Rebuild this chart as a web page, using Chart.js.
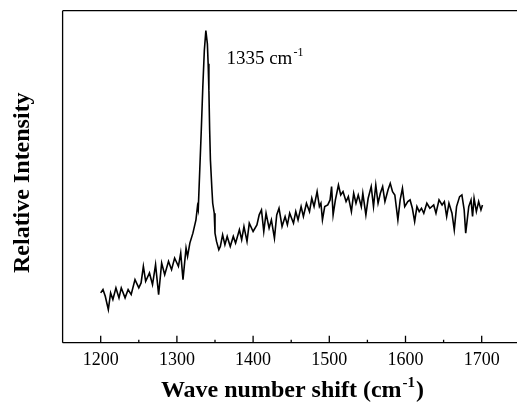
<!DOCTYPE html>
<html>
<head>
<meta charset="utf-8">
<script src="https://cdn.jsdelivr.net/npm/chart.js@4"></script>
<style>
  html, body { margin: 0; padding: 0; background: #fff; overflow: hidden; }
  #wrap { width: 522px; height: 408px; }
</style>
</head>
<body>
<div id="wrap"><canvas id="raman"></canvas></div>
<script>
// Raman spectrum (relative units, 0-100 = plot height)
const waveNumbers = [
  1200, 1203, 1206, 1210, 1213, 1216, 1220, 1224, 1227, 1232, 1236, 1240, 1245, 1250, 1253, 1256,
  1259, 1264, 1268, 1272, 1276, 1280, 1284, 1289, 1293, 1297, 1302, 1305, 1308, 1312, 1314, 1317,
  1321, 1325, 1327, 1328, 1330, 1332, 1334, 1336, 1338, 1340, 1341, 1342, 1343, 1344, 1346, 1347,
  1349, 1350, 1352, 1355, 1357, 1360, 1363, 1366, 1370, 1374, 1377, 1382, 1385, 1388, 1392, 1395,
  1400, 1405, 1408, 1411, 1414, 1417, 1421, 1424, 1428, 1431, 1434, 1438, 1442, 1445, 1448, 1453,
  1456, 1459, 1463, 1466, 1470, 1474, 1477, 1480, 1484, 1487, 1489, 1491, 1494, 1498, 1501, 1503,
  1505, 1508, 1512, 1515, 1518, 1522, 1525, 1529, 1532, 1535, 1538, 1542, 1544, 1548, 1551, 1555,
  1558, 1561, 1564, 1567, 1570, 1573, 1577, 1580, 1583, 1586, 1590, 1593, 1596, 1599, 1603, 1606,
  1609, 1612, 1615, 1618, 1621, 1624, 1628, 1632, 1637, 1640, 1644, 1648, 1651, 1654, 1657, 1661,
  1664, 1667, 1671, 1674, 1677, 1679, 1683, 1686, 1688, 1690, 1693, 1696, 1699, 1701
];
const intensity = [
  15, 16, 14, 10, 15, 13, 16.5, 13.5, 16.5, 13.5, 16, 14.5, 19, 16.5, 18, 23,
  18.5, 21, 17.5, 23.5, 14.5, 24, 20.5, 24.5, 22, 25.5, 23, 27, 19, 28.5, 26, 30,
  33, 37, 41, 40, 52, 64, 77, 88, 94, 90, 84, 76, 64, 55, 46, 42,
  39, 33, 30.5, 28, 29, 32.5, 29.5, 32, 29, 32, 30, 34, 31, 35, 30.5, 36,
  33.5, 35.5, 38.5, 40, 33.5, 39, 34.5, 37, 31.5, 38.5, 40.5, 35, 38, 35.5, 39, 36,
  39.5, 37, 41, 38, 42, 39.5, 43.5, 41, 45.5, 41, 42, 37, 41, 41.5, 43, 47,
  38.5, 43, 47.5, 44.5, 45.5, 42.5, 44, 39.5, 45, 42, 44.5, 41, 45, 38.5, 43.5, 47,
  41, 47.5, 42, 45, 47, 42.5, 46, 48, 45.5, 44.5, 37, 43, 46.5, 41, 42.5, 43,
  40.5, 36.5, 41, 39.5, 40.5, 39, 42, 40.5, 41.5, 39, 43, 41.5, 42.5, 38, 42, 39,
  34, 41, 44, 44.5, 40, 33, 41, 43, 38, 43.5, 39.5, 42.5, 40, 41.5
];
const xTickLabels = [1200, 1300, 1400, 1500, 1600, 1700];
const peakLabel = '1335 cm';

const points = waveNumbers.map((w, i) => ({ x: w, y: intensity[i] }));

// frame, inward ticks and the titles with superscripts
const framePlugin = {
  id: 'frame',
  afterDraw(chart) {
    const { ctx, chartArea: a, scales: { x, y } } = chart;
    ctx.save();
    ctx.strokeStyle = '#000';
    ctx.lineWidth = 1.3;
    ctx.beginPath();
    ctx.moveTo(a.left, a.top); ctx.lineTo(a.right, a.top);
    ctx.moveTo(a.left, a.top); ctx.lineTo(a.left, a.bottom);
    ctx.moveTo(a.left, a.bottom); ctx.lineTo(a.right, a.bottom);
    ctx.moveTo(a.right, a.top); ctx.lineTo(a.right, a.bottom);
    for (let v = 1150; v <= 1750; v += 50) {
      const px = x.getPixelForValue(v);
      const len = v % 100 === 0 ? 7 : 3;
      ctx.moveTo(px, a.bottom); ctx.lineTo(px, a.bottom - len);
    }
    ctx.stroke();

    ctx.fillStyle = '#000';
    // peak annotation
    ctx.font = '19px "Liberation Serif"';
    ctx.textBaseline = 'alphabetic';
    const ax = x.getPixelForValue(1365), ay = y.getPixelForValue(83.8);
    ctx.fillText(peakLabel, ax, ay);
    const aw = ctx.measureText(peakLabel).width;
    ctx.font = '12px "Liberation Serif"';
    ctx.fillText('-1', ax + aw + 1, ay - 8);

    // x title
    const xt = 'Wave number shift (cm';
    ctx.font = 'bold 24px "Liberation Serif"';
    const w1 = ctx.measureText(xt).width;
    const w3 = ctx.measureText(')').width;
    ctx.font = 'bold 15px "Liberation Serif"';
    const w2 = ctx.measureText('-1').width;
    let sx = 292.5 - (w1 + w2 + w3 + 2) / 2;
    const by = 397;
    ctx.font = 'bold 24px "Liberation Serif"';
    ctx.fillText(xt, sx, by);
    ctx.font = 'bold 15px "Liberation Serif"';
    ctx.fillText('-1', sx + w1 + 1, by - 10);
    ctx.font = 'bold 24px "Liberation Serif"';
    ctx.fillText(')', sx + w1 + w2 + 2, by);

    // y title
    ctx.translate(29, 182.7);
    ctx.rotate(-Math.PI / 2);
    ctx.font = 'bold 24px "Liberation Serif"';
    ctx.textAlign = 'center';
    ctx.fillText('Relative Intensity', 0, 0);
    ctx.restore();
  }
};

new Chart(document.getElementById('raman'), {
  type: 'line',
  data: {
    datasets: [{
      data: points,
      borderColor: '#000',
      borderWidth: 1.6,
      pointRadius: 0,
      tension: 0,
      fill: false
    }]
  },
  options: {
    responsive: true,
    maintainAspectRatio: false,
    animation: false,
    layout: { padding: { top: 10.7, right: 2.2, left: 0, bottom: 0 } },
    plugins: { legend: { display: false }, tooltip: { enabled: false } },
    scales: {
      x: {
        type: 'linear',
        min: 1150,
        max: 1750,
        afterFit: (s) => { s.height = 65.3; },
        grid: { display: false, drawTicks: false },
        border: { display: false },
        afterBuildTicks: (s) => { s.ticks = xTickLabels.map(v => ({ value: v })); },
        ticks: {
          color: '#000',
          padding: 7,
          maxRotation: 0,
          autoSkip: false,
          font: { family: '"Liberation Serif"', size: 18 },
          callback: (v) => String(v)
        }
      },
      y: {
        min: 0,
        max: 100,
        afterFit: (s) => { s.width = 62.6; },
        grid: { display: false, drawTicks: false },
        border: { display: false },
        ticks: { display: false }
      }
    }
  },
  plugins: [framePlugin]
});
</script>
</body>
</html>
